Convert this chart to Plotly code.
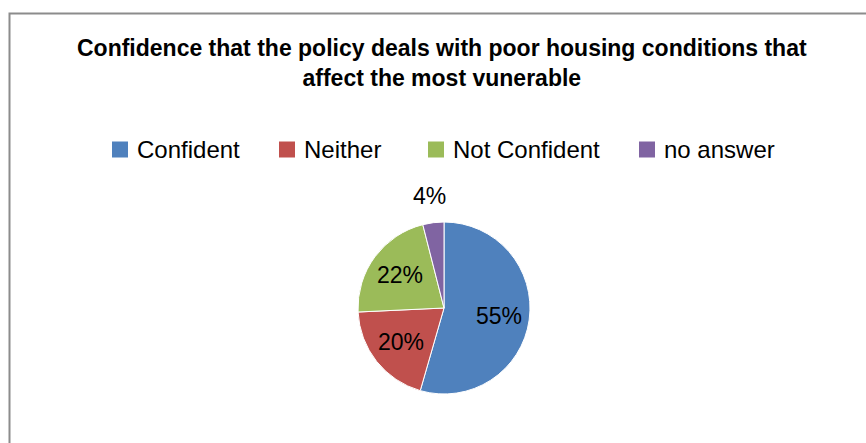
import math
import plotly.graph_objects as go

# Survey responses (percent of respondents)
categories = ["Confident", "Neither", "Not Confident", "no answer"]
shares = [55, 20, 22, 4]
colors = ["#4F81BD", "#C0504D", "#9BBB59", "#8064A2"]
label_outside = [False, False, False, True]

title_text = ("<b>Confidence that the policy deals with poor housing conditions that<br>"
              "affect the most vunerable</b>")

W, H = 866, 443
FONT = "Liberation Sans, Arial, sans-serif"

# Pie placement in pixels, converted to paper fractions
cx, cy, r = 444, 308, 86
domain_x = [(cx - r) / W, (cx + r) / W]
domain_y = [1 - (cy + r) / H, 1 - (cy - r) / H]

# Legend layout (pixel positions of each swatch's left edge, and the row centre)
legend_swatch_x = [112, 279, 428, 639]
legend_row_y = 149.5
swatch = 16
swatch_gap = 7

fig = go.Figure(
    go.Pie(
        labels=categories,
        values=shares,
        sort=False,
        direction="clockwise",
        rotation=0,
        marker=dict(colors=colors, line=dict(color="white", width=1)),
        textinfo="none",
        hoverinfo="label+value",
        domain=dict(x=domain_x, y=domain_y),
        showlegend=False,
    )
)

annotations = [
    dict(
        text=title_text,
        x=442 / W,
        y=1 - 63.5 / H,
        xref="paper",
        yref="paper",
        xanchor="center",
        yanchor="middle",
        showarrow=False,
        align="center",
        font=dict(family=FONT, size=23, color="black"),
    )
]
shapes = [
    # chart-area frame
    dict(
        type="rect",
        xref="paper",
        yref="paper",
        x0=9.5 / W,
        x1=1.02,
        y0=-0.02,
        y1=1 - 13.5 / H,
        line=dict(color="#8C8C8C", width=2),
        fillcolor="rgba(0,0,0,0)",
        layer="below",
    )
]

# Legend: colour swatch + category name
for name, col, sx in zip(categories, colors, legend_swatch_x):
    shapes.append(
        dict(
            type="rect",
            xref="paper",
            yref="paper",
            x0=sx / W,
            x1=(sx + swatch) / W,
            y0=1 - (legend_row_y + swatch / 2) / H,
            y1=1 - (legend_row_y - swatch / 2) / H,
            line=dict(width=0),
            fillcolor=col,
        )
    )
    annotations.append(
        dict(
            text=name,
            x=(sx + swatch + swatch_gap) / W,
            y=1 - legend_row_y / H,
            xref="paper",
            yref="paper",
            xanchor="left",
            yanchor="middle",
            showarrow=False,
            font=dict(family=FONT, size=24, color="black"),
        )
    )

# Percentage labels placed at each slice's mid-angle (clockwise from 12 o'clock)
total = sum(shares)
cum = 0
for val, outside in zip(shares, label_outside):
    mid = (cum + val / 2) / total * 2 * math.pi
    cum += val
    dist = r + 27 if outside else r * 0.64
    lx = cx + dist * math.sin(mid)
    ly = cy - dist * math.cos(mid)
    annotations.append(
        dict(
            text=f"{val}%",
            x=lx / W,
            y=1 - ly / H,
            xref="paper",
            yref="paper",
            xanchor="center",
            yanchor="middle",
            showarrow=False,
            font=dict(family=FONT, size=23, color="black"),
        )
    )

fig.update_layout(
    width=W,
    height=H,
    margin=dict(l=0, r=0, t=0, b=0),
    paper_bgcolor="white",
    plot_bgcolor="white",
    font=dict(family=FONT, color="black"),
    showlegend=False,
    annotations=annotations,
    shapes=shapes,
)

fig.write_html("out.html")
